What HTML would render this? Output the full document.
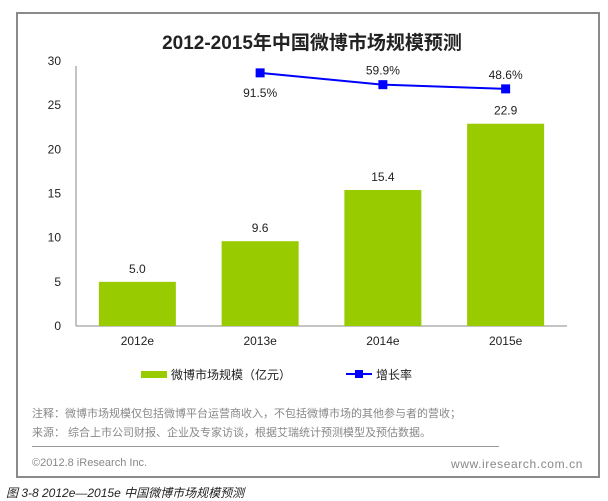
<!DOCTYPE html>
<html><head><meta charset="utf-8"><style>
body{margin:0;width:608px;height:501px;background:#fff;position:relative;font-family:"Liberation Sans","Noto Sans CJK SC",sans-serif;overflow:hidden}
.t{position:absolute;white-space:nowrap}
</style></head><body>
<div style="position:absolute;left:16px;top:12px;border:2px solid #8a8a8a;height:466px;box-sizing:border-box;width:584px"></div>
<div class="t" style="left:0;width:608px;text-align:center;top:28px;font-size:19px;font-weight:bold;color:#222;padding-left:8px">2012-2015年中国微博市场规模预测</div>
<svg id="c" width="608" height="501" style="position:absolute;left:0;top:0"></svg>
<div class="t" style="left:32px;top:405px;font-size:11px;color:#888">注释：微博市场规模仅包括微博平台运营商收入，不包括微博市场的其他参与者的营收；</div>
<div class="t" style="left:32px;top:424px;font-size:11px;color:#888">来源： 综合上市公司财报、企业及专家访谈，根据艾瑞统计预测模型及预估数据。</div>
<div style="position:absolute;left:32px;top:446px;width:467px;height:1px;background:#999"></div>
<div class="t" style="left:32px;top:457px;font-size:11px;color:#888">©2012.8 iResearch Inc.</div>
<div class="t" style="right:25px;top:457px;font-size:12px;letter-spacing:0.6px;color:#888">www.iresearch.com.cn</div>
<div class="t" style="left:6px;top:484px;font-size:12px;font-style:italic;color:#222">图 3-8 2012e—2015e 中国微博市场规模预测</div>
<script>
const categories=["2012e","2013e","2014e","2015e"];
const marketSize=[5.0,9.6,15.4,22.9];
const growthRate=[null,91.5,59.9,48.6];
const yTicks=[0,5,10,15,20,25,30];
const svg=document.getElementById('c');const NS="http://www.w3.org/2000/svg";
function el(t,a,txt){const e=document.createElementNS(NS,t);for(const k in a)e.setAttribute(k,a[k]);if(txt!=null)e.textContent=txt;svg.appendChild(e);return e;}
const x0=76,x1=567,yTop=61,yBot=326,band=(x1-x0)/categories.length;
const y=v=>yBot-(v/30)*(yBot-yTop);
const cx=i=>x0+band*(i+0.5);
const y2=v=>107-(v/100)*37.3;
const ax=el('line',{x1:x0,y1:yTop+5,x2:x0,y2:yBot,stroke:'#888'});

const bx=el('line',{x1:x0,y1:yBot,x2:x1,y2:yBot,stroke:'#888'});

yTicks.forEach(v=>{const t=el('text',{x:61,y:y(v)+4,'text-anchor':'end','font-size':12,fill:'#222'},v);
});
categories.forEach((c,i)=>{
const t=el('text',{x:cx(i),y:345,'text-anchor':'middle','font-size':12,fill:'#222'},c);

const b=el('rect',{x:cx(i)-38.5,y:y(marketSize[i]),width:77,height:yBot-y(marketSize[i]),fill:'#99cc00'});

const l=el('text',{x:cx(i),y:y(marketSize[i])-9,'text-anchor':'middle','font-size':12,fill:'#222'},marketSize[i].toFixed(1));

});
let pts=[];growthRate.forEach((g,i)=>{if(g!=null)pts.push([cx(i),y2(g)]);});
const pl=el('polyline',{points:pts.map(p=>p.join(',')).join(' '),fill:'none',stroke:'#0000ff','stroke-width':2});

growthRate.forEach((g,i)=>{if(g==null)return;
const m=el('rect',{x:cx(i)-4.5,y:y2(g)-4.5,width:9,height:9,fill:'#0000ff'});

const above=i>1;
const t=el('text',{x:cx(i),y:above?y2(g)-10:y2(g)+24,'text-anchor':'middle','font-size':12,fill:'#222'},g.toFixed(1)+'%');
});
const s=el('rect',{x:141,y:371,width:26,height:7,fill:'#99cc00'});

const lt=el('text',{x:171,y:379,'font-size':12,fill:'#222'},'微博市场规模（亿元）');

const ll=el('line',{x1:346,y1:374,x2:372,y2:374,stroke:'#0000ff','stroke-width':2});

const lm=el('rect',{x:355,y:370,width:8,height:8,fill:'#0000ff'});

const lt2=el('text',{x:376,y:379,'font-size':12,fill:'#222'},'增长率');

</script>
</body></html>
